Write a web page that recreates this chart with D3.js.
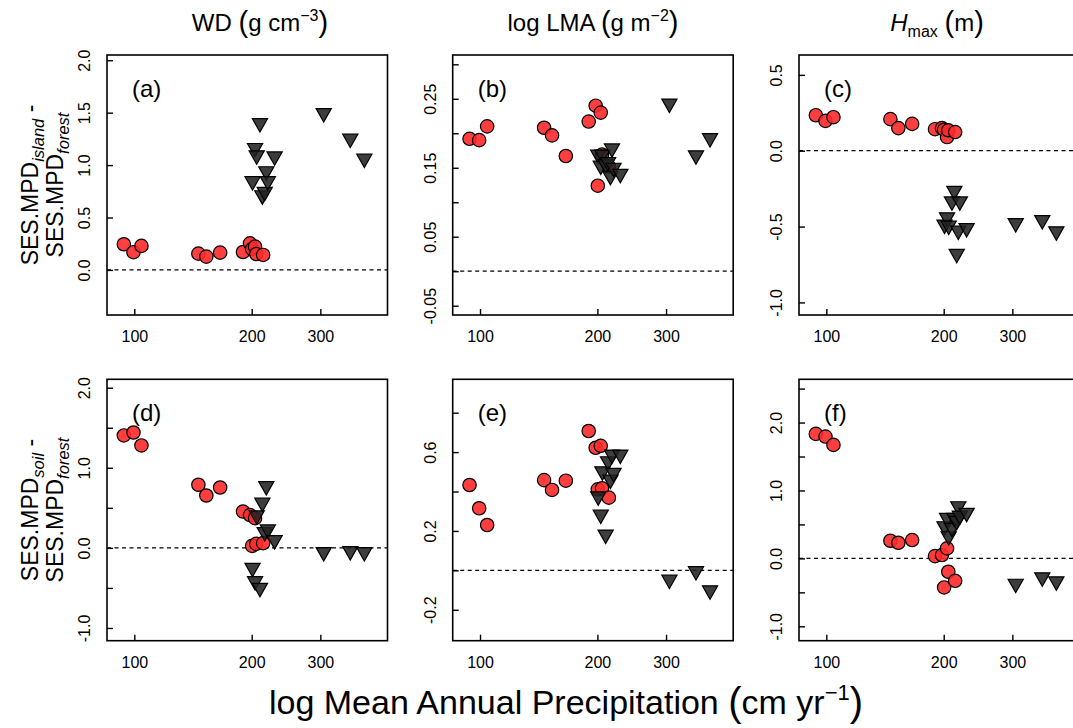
<!DOCTYPE html>
<html>
<head>
<meta charset="utf-8">
<script src="https://cdn.jsdelivr.net/npm/d3@7"></script>
<style>
  body { margin: 0; background: #fff; }
  svg { display: block; font-family: "Liberation Sans", Arial, sans-serif; }
</style>
</head>
<body>
<svg id="chart" width="1073" height="728"></svg>
<script>
// precipitation (cm/yr) of the sites, island/soil comparisons (red) and forest (triangles)
const redX = [94, 99.5, 104.3, 146, 153, 166, 190, 198, 200.5, 204, 205.5, 214]
const triX = [201, 204, 206, 210, 213, 216, 218, 220, 229, 306, 358, 389]

// SES.MPD differences, one array per panel
const redA = [0.245, 0.169, 0.229, 0.155, 0.127, 0.165, 0.171, 0.254, 0.20, 0.222, 0.152, 0.143]
const triA = [0.826, 1.143, 1.073, 1.381, 0.692, 0.724, 0.921, 0.826, 1.063, 1.476, 1.232, 1.041]
const redB = [0.192, 0.190, 0.210, 0.208, 0.197, 0.167, 0.217, 0.240, 0.124, 0.230, 0.169, 0.152]
const triB = [0.166, 0.150, 0.166, 0.152, 0.155, 0.135, 0.175, 0.147, 0.138, 0.240, 0.165, 0.190]
const redC = [0.234, 0.197, 0.221, 0.208, 0.149, 0.177, 0.142, 0.149, 0.138, 0.090, 0.135, 0.123]
const triC = [-0.501, -0.453, -0.508, -0.348, -0.278, -0.694, -0.541, -0.348, -0.524, -0.491, -0.471, -0.545]
const redD = [1.404, 1.441, 1.279, 0.788, 0.654, 0.754, 0.454, 0.41, 0.025, 0.371, 0.05, 0.059]
const triD = [-0.275, -0.442, 0.379, -0.525, 0.538, 0.17, 0.746, 0.204, 0.071, -0.079, -0.066, -0.079]
const redE = [0.433, 0.315, 0.230, 0.458, 0.408, 0.455, 0.707, 0.622, 0.411, 0.632, 0.416, 0.369]
const triE = [0.365, 0.272, 0.492, 0.171, 0.543, 0.45, 0.577, 0.484, 0.577, -0.058, -0.015, -0.112]
const redF = [1.833, 1.794, 1.671, 0.260, 0.230, 0.270, 0.034, 0.049, -0.428, 0.147, -0.197, -0.330]
const triF = [0.442, 0.565, 0.295, 0.417, 0.565, 0.52, 0.737, 0.6, 0.639, -0.404, -0.31, -0.369]

// axes
const xTicks = [100, 200, 300]
const yTicksA = [0, 0.5, 1, 1.5, 2]
const yLabelsA = ["0.0", "0.5", "1.0", "1.5", "2.0"]
const yTicksB = [-0.05, 0, 0.05, 0.1, 0.15, 0.2, 0.25, 0.3]
const yLabelsB = ["-0.05", "", "0.05", "", "0.15", "", "0.25", ""]
const yTicksC = [-1, -0.5, 0, 0.5]
const yLabelsC = ["-1.0", "-0.5", "0.0", "0.5"]
const yTicksD = [-1, -0.5, 0, 0.5, 1, 1.5, 2]
const yLabelsD = ["-1.0", "", "0.0", "", "1.0", "", "2.0"]
const yTicksE = [-0.2, 0, 0.2, 0.4, 0.6, 0.8]
const yLabelsE = ["-0.2", "", "0.2", "", "0.6", ""]
const yTicksF = [-1, -0.5, 0, 0.5, 1, 1.5, 2, 2.5]
const yLabelsF = ["-1.0", "", "0.0", "", "1.0", "", "2.0", ""]

const panelTags = ["(a)", "(b)", "(c)", "(d)", "(e)", "(f)"]

let svg = d3.select("#chart")

let colLeft = [107, 452.7, 799]
let rowTop = [55, 379.3]
let rowHeight = [260, 261.4]
let panelW = 280.5

let panels = [
  { red: redA, tri: triA, dom: [-0.43, 2.05], ticks: yTicksA, labels: yLabelsA },
  { red: redB, tri: triB, dom: [-0.0635, 0.3135], ticks: yTicksB, labels: yLabelsB },
  { red: redC, tri: triC, dom: [-1.083, 0.631], ticks: yTicksC, labels: yLabelsC },
  { red: redD, tri: triD, dom: [-1.159, 2.105], ticks: yTicksD, labels: yLabelsD },
  { red: redE, tri: triE, dom: [-0.357, 0.9695], ticks: yTicksE, labels: yLabelsE },
  { red: redF, tri: triF, dom: [-1.212, 2.637], ticks: yTicksF, labels: yLabelsF }
]

let triPath = "M-7.6,-6.6L7.6,-6.6L0,6.8Z"

panels.forEach(function(p, i) {
  let col = i % 3, row = Math.floor(i / 3)
  let h = rowHeight[row]
  let g = svg.append("g")
    .attr("transform", "translate(" + colLeft[col] + "," + rowTop[row] + ")")

  let x = d3.scaleLog().domain([85.1, 446]).range([0, panelW])
  let y = d3.scaleLinear().domain(p.dom).range([h, 0])

  // zero reference
  g.append("line")
    .attr("x1", 0).attr("x2", panelW)
    .attr("y1", y(0)).attr("y2", y(0))
    .attr("stroke", "#000").attr("stroke-width", 1.3)
    .attr("stroke-dasharray", "4,3.5")

  let xa = g.append("g")
    .attr("transform", "translate(0," + h + ")")
    .call(d3.axisBottom(x).tickValues(xTicks).tickFormat(d3.format("d"))
      .tickSizeInner(-6).tickSizeOuter(0).tickPadding(16))
  let ya = g.append("g")
    .call(d3.axisLeft(y).tickValues(p.ticks).tickFormat((d, j) => p.labels[j])
      .tickSizeInner(-6).tickSizeOuter(0))
  ;[xa, ya].forEach(a => {
    a.attr("font-size", 16).attr("font-family", null)
    a.select(".domain").remove()
    a.selectAll("line").attr("stroke-width", 1.4)
  })
  ya.selectAll("text")
    .attr("x", null).attr("dy", null)
    .attr("text-anchor", "middle")
    .attr("transform", "translate(-17,0) rotate(-90)")

  g.append("rect")
    .attr("width", panelW).attr("height", h)
    .attr("fill", "none").attr("stroke", "#000").attr("stroke-width", 1.6)

  g.selectAll("circle.red")
    .data(p.red)
    .enter().append("circle")
    .attr("class", "red")
    .attr("cx", (d, j) => x(redX[j]))
    .attr("cy", d => y(d))
    .attr("r", 6.7)
    .attr("fill", "#ff2a2a").attr("fill-opacity", 0.9)
    .attr("stroke", "#000").attr("stroke-width", 1.2)

  g.selectAll("path.tri")
    .data(p.tri)
    .enter().append("path")
    .attr("class", "tri")
    .attr("d", triPath)
    .attr("transform", (d, j) => "translate(" + x(triX[j]) + "," + y(d) + ")")
    .attr("fill", "#222").attr("fill-opacity", 0.88)
    .attr("stroke", "#000").attr("stroke-width", 1.2)

  g.append("text")
    .attr("x", 25).attr("y", 42)
    .attr("font-size", 24)
    .text(panelTags[i])
})

// column titles
function title(cx, parts) {
  let t = svg.append("text")
    .attr("x", cx).attr("y", 31)
    .attr("text-anchor", "middle")
    .attr("font-size", 24)
  parts.forEach(q => {
    let s = t.append("tspan").text(q.t)
    if (q.big) s.attr("font-size", 29).attr("dy", q.dy || 1)
    if (q.sup) s.attr("font-size", 16).attr("dy", -10)
    if (q.sub) s.attr("font-size", 16).attr("dy", 6)
    if (q.back) s.attr("dy", q.back)
    if (q.it) s.attr("font-style", "italic")
  })
}
title(260, [{ t: "WD " }, { t: "(", big: true }, { t: "g cm", dy: -1, back: -1 },
  { t: "\u22123", sup: true }, { t: ")", big: true, dy: 11 }])
title(593, [{ t: "log LMA " }, { t: "(", big: true }, { t: "g m", back: -1 },
  { t: "\u22122", sup: true }, { t: ")", big: true, dy: 11 }])
title(937, [{ t: "H", it: true }, { t: "max", sub: true }, { t: " ", back: -6 },
  { t: "(", big: true }, { t: "m", back: -1 }, { t: ")", big: true }])

// row labels
function rowLabel(cy, word) {
  let lines = [
    { x: 38, parts: [{ t: "SES.MPD" }, { t: word, sub: true }, { t: " -", back: -6 }] },
    { x: 63, parts: [{ t: "SES.MPD" }, { t: "forest", sub: true }] }
  ]
  lines.forEach(l => {
    let t = svg.append("text")
      .attr("text-anchor", "middle")
      .attr("font-size", 23)
      .attr("transform", "translate(" + l.x + "," + cy + ") rotate(-90)")
    l.parts.forEach(q => {
      let s = t.append("tspan").text(q.t)
      if (q.sub) s.attr("font-size", 16.5).attr("font-style", "italic").attr("dy", 6)
      if (q.back) s.attr("dy", q.back)
    })
  })
}
rowLabel(185, "island")
rowLabel(510, "soil")

// x axis title
let xt = svg.append("text")
  .attr("x", 566).attr("y", 714)
  .attr("text-anchor", "middle")
  .attr("font-size", 34)
xt.append("tspan").text("log Mean Annual Precipitation ")
xt.append("tspan").text("(").attr("font-size", 40).attr("dy", 2)
xt.append("tspan").text("cm yr").attr("dy", -2)
xt.append("tspan").text("\u22121").attr("font-size", 22).attr("dy", -14)
xt.append("tspan").text(")").attr("font-size", 40).attr("dy", 16)
</script>
</body>
</html>
